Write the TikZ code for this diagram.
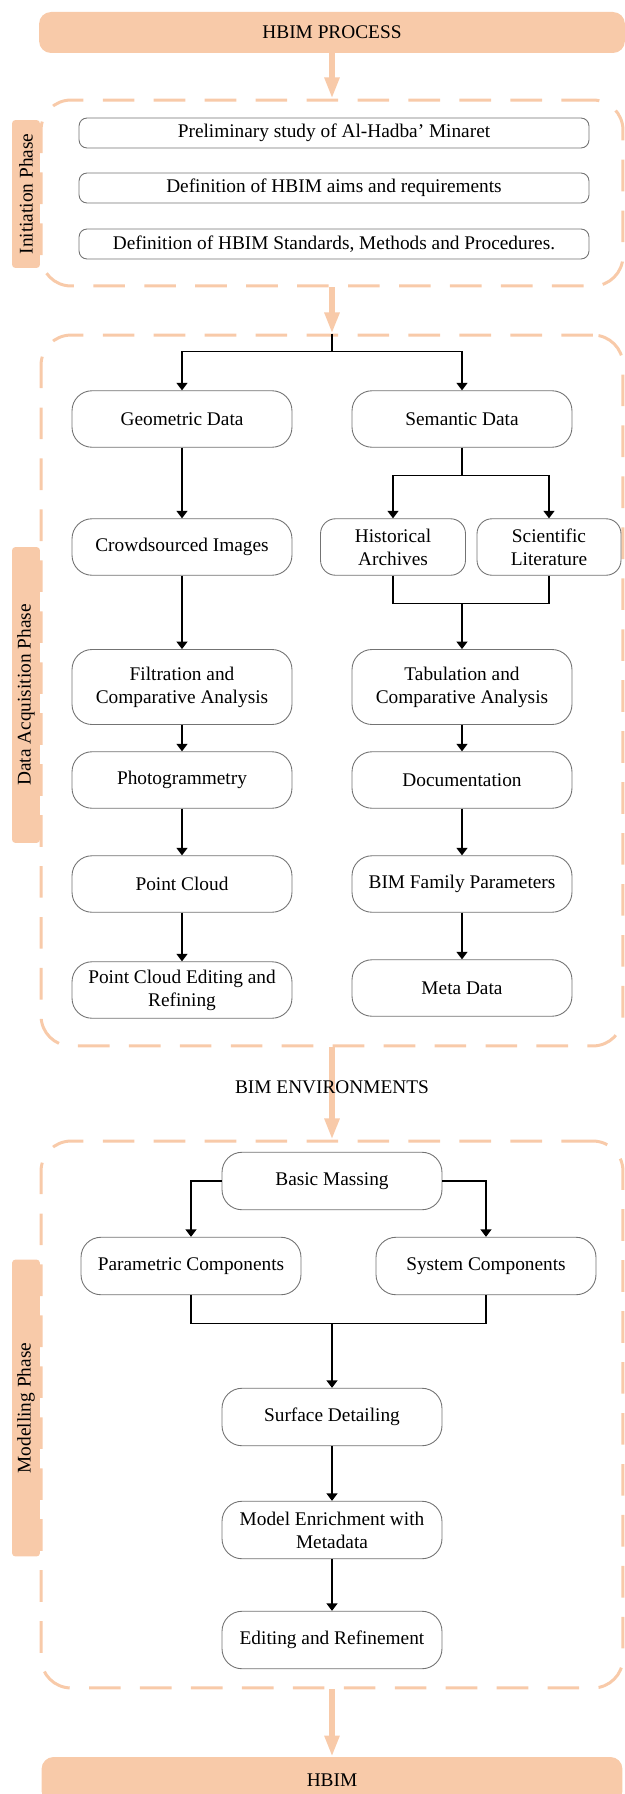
\documentclass[tikz,border=0pt]{standalone}
\usepackage{fontspec}
\setmainfont{Liberation Serif}
\usetikzlibrary{arrows.meta}
\definecolor{peach}{RGB}{248,202,169}

\begin{document}
\begin{tikzpicture}[x=0.02cm,y=-0.02cm,
  font=\fontsize{11}{13}\selectfont,
  stepbox/.style={draw=black!55,line width=0.5pt,rounded corners=0.4cm,fill=white,
    minimum width=4.4cm,minimum height=1.13cm,inner sep=1pt,align=center},
  taskbox/.style={draw=black!55,line width=0.5pt,rounded corners=0.16cm,fill=white,
    minimum width=10.2cm,minimum height=0.6cm,inner sep=1pt},
  phasebox/.style={draw=peach,line width=1.7pt,dash pattern=on 18pt off 11pt,
    rounded corners=0.6cm,minimum width=11.64cm},
  phasetab/.style={fill=peach,rounded corners=2pt,rotate=90,minimum height=0.56cm,inner sep=1pt},
  bar/.style={fill=peach,rounded corners=0.24cm,minimum height=0.82cm},
  flow/.style={-{Triangle[width=6.2pt,length=4.2pt]},line width=0.7pt},
  bigarrow/.style={-{Triangle[width=8pt,length=12pt]},draw=peach,line width=3.2pt}]
  \useasboundingbox (0,0) rectangle (625,1794);
  % phases
  \node[phasebox,minimum height=3.72cm] (init) at (332,193) {};
  \node[phasebox,minimum height=14.22cm] (acq) at (332,690.5) {};
  \node[phasebox,minimum height=10.94cm] (model) at (332,1414.5) {};
  \node[phasetab,minimum width=2.96cm] (inittab) at (26,194) {Initiation Phase};
  \node[phasetab,minimum width=5.92cm] (acqtab) at (26,695) {Data Acquisition Phase};
  \node[phasetab,minimum width=5.94cm] (modeltab) at (26,1408) {Modelling Phase};
  % start and end
  \node[bar,minimum width=11.72cm] (top) at (332,32.5) {HBIM PROCESS};
  \node[bar,minimum width=11.62cm,minimum height=0.92cm] (hbim) at (332,1780) {HBIM};
  \draw[bigarrow] (top) -- (init);
  \draw[bigarrow] (init) -- (acq);
  \draw[bigarrow] (acq) -- (model);
  \draw[bigarrow] (model) -- (hbim);
  \node (env) at (332,1087) {BIM ENVIRONMENTS};
  % initiation
  \node[taskbox] (prelim) at (334,133) {Preliminary study of Al-Hadba’ Minaret};
  \node[taskbox] (aims) at (334,188) {Definition of HBIM aims and requirements};
  \node[taskbox] (stand) at (334,244) {Definition of HBIM Standards, Methods and Procedures.};
  % data acquisition
  \node[stepbox] (geo) at (182,419) {Geometric Data};
  \node[stepbox] (sem) at (462,419) {Semantic Data};
  \node[stepbox] (crowd) at (182,547) {Crowdsourced Images};
  \node[stepbox,minimum width=2.9cm,rounded corners=0.3cm] (hist) at (393,547) {Historical\\Archives};
  \node[stepbox,minimum width=2.88cm,rounded corners=0.3cm] (sci) at (549,547) {Scientific\\Literature};
  \node[stepbox,minimum height=1.5cm] (filt) at (182,687) {Filtration and\\Comparative Analysis};
  \node[stepbox,minimum height=1.5cm] (tabul) at (462,687) {Tabulation and\\Comparative Analysis};
  \node[stepbox] (photo) at (182,780) {Photogrammetry};
  \node[stepbox] (docu) at (462,780) {Documentation};
  \node[stepbox] (cloud) at (182,884) {Point Cloud};
  \node[stepbox] (family) at (462,884) {BIM Family Parameters};
  \node[stepbox] (cloudedit) at (182,990) {Point Cloud Editing and\\Refining};
  \node[stepbox] (meta) at (462,988) {Meta Data};
  \draw[line width=0.7pt] (acq.north) -- ++(0,18) coordinate (split1);
  \draw[flow] (split1) -| (geo);
  \draw[flow] (split1) -| (sem);
  \draw[flow] (geo) -- (crowd);
  \draw[flow] (crowd) -- (filt);
  \draw[flow] (filt) -- (photo);
  \draw[flow] (photo) -- (cloud);
  \draw[flow] (cloud) -- (cloudedit);
  \draw[line width=0.7pt] (sem.south) -- ++(0,28) coordinate (split2);
  \draw[flow] (split2) -| (hist);
  \draw[flow] (split2) -| (sci);
  \draw[line width=0.7pt] (hist.south) -- ++(0,28) -| (sci.south);
  \coordinate (join1) at (462,603);
  \draw[flow] (join1) -- (tabul);
  \draw[flow] (tabul) -- (docu);
  \draw[flow] (docu) -- (family);
  \draw[flow] (family) -- (meta);
  % modelling
  \node[stepbox,minimum height=1.15cm] (mass) at (332,1181) {Basic Massing};
  \node[stepbox,minimum height=1.15cm] (param) at (191,1266) {Parametric Components};
  \node[stepbox,minimum height=1.15cm] (syst) at (486,1266) {System Components};
  \node[stepbox,minimum height=1.15cm] (surf) at (332,1417) {Surface Detailing};
  \node[stepbox,minimum height=1.15cm] (enrich) at (332,1530) {Model Enrichment with\\Metadata};
  \node[stepbox,minimum height=1.15cm] (refine) at (332,1640) {Editing and Refinement};
  \draw[flow] (mass.west) -| (param);
  \draw[flow] (mass.east) -| (syst);
  \draw[line width=0.7pt] (param.south) -- ++(0,28) -| (syst.south);
  \coordinate (join2) at (332,1323);
  \draw[flow] (join2) -- (surf);
  \draw[flow] (surf) -- (enrich);
  \draw[flow] (enrich) -- (refine);
\end{tikzpicture}
\end{document}
